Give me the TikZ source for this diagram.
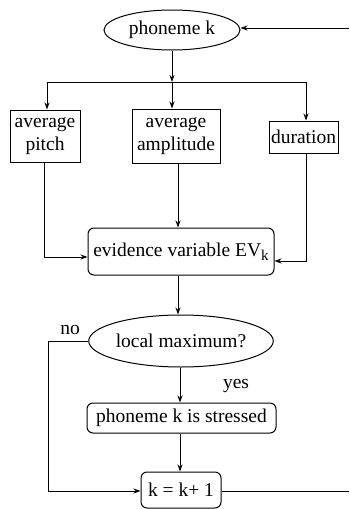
\documentclass[tikz,border=0pt]{standalone}
\usepackage{fontspec}
\setmainfont{Liberation Serif}
\usepackage{tikz}
\usetikzlibrary{arrows.meta,shapes.geometric}

\begin{document}
\begin{tikzpicture}[x=1pt,y=-1pt,line width=1pt,
    >={Stealth[length=7pt,width=5pt]},
    txt/.style={font=\fontsize{19.5}{23}\selectfont,align=center,inner sep=0pt},
    box/.style={txt,draw},
    rbox/.style={txt,draw,rounded corners=6pt},
    oval/.style={txt,draw,ellipse}]
    \useasboundingbox (0,0) rectangle (349,509);
    % Phoneme and its three features
    \node[oval,minimum width=136,minimum height=40] (pho) at (172,30) {phoneme k};
    \node[box,minimum width=70,minimum height=52] (pitch) at (45,136) {average\\pitch};
    \node[box,minimum width=88,minimum height=54] (ampl) at (176,136) {average\\amplitude};
    \node[box,minimum width=69,minimum height=32] (dur) at (303.5,137) {duration};
    \coordinate (split) at (172,82);
    \draw[->] (pho) -- (split);
    \draw[->] (split) -- (ampl.north -| split);
    \draw[->] (split) -| (pitch.north -| 47,0);
    \draw[->] (split) -| (dur.north -| 306,0);
    % Evidence variable
    \node[rbox,minimum width=186,minimum height=47] (ev) at (181,251.5)
        {evidence variable EV\raisebox{-0.45ex}{\fontsize{15}{15}\selectfont k}};
    \draw[->] (pitch.south -| 44,0) |- (ev.west |- 0,257);
    \draw[->] (ampl.south -| 178,0) -- (ev.north -| 178,0);
    \draw[->] (dur.south -| 306,0) |- (ev.east |- 0,261);
    % Decision
    \node[oval,minimum width=178,minimum height=52] (lmax) at (181,341) {local maximum?};
    \draw[->] (ev.south -| 178,0) -- (lmax.north -| 178,0);
    \node[rbox,minimum width=189,minimum height=30] (stress) at (181.5,418) {phoneme k is stressed};
    \draw[->] (lmax.south -| 180,0) -- (stress.north -| 180,0);
    \node[txt] (yes) at (236,386) {yes};
    \node[txt] (no) at (70,330) {no};
    % Increment and loop back
    \node[rbox,minimum width=80,minimum height=36] (inc) at (181,490) {k = k+ 1};
    \draw[->] (stress.south -| 180,0) -- (inc.north -| 180,0);
    \draw[->] (lmax.west) -| (48,491) -- (inc.west |- 0,491);
    \coordinate (loopout) at (349,491);
    \coordinate (loopin) at (349,28);
    \draw (inc.east |- loopout) -- (loopout);
    \draw[->] (loopin) -- (pho.east |- loopin);
  \end{tikzpicture}
\end{document}
